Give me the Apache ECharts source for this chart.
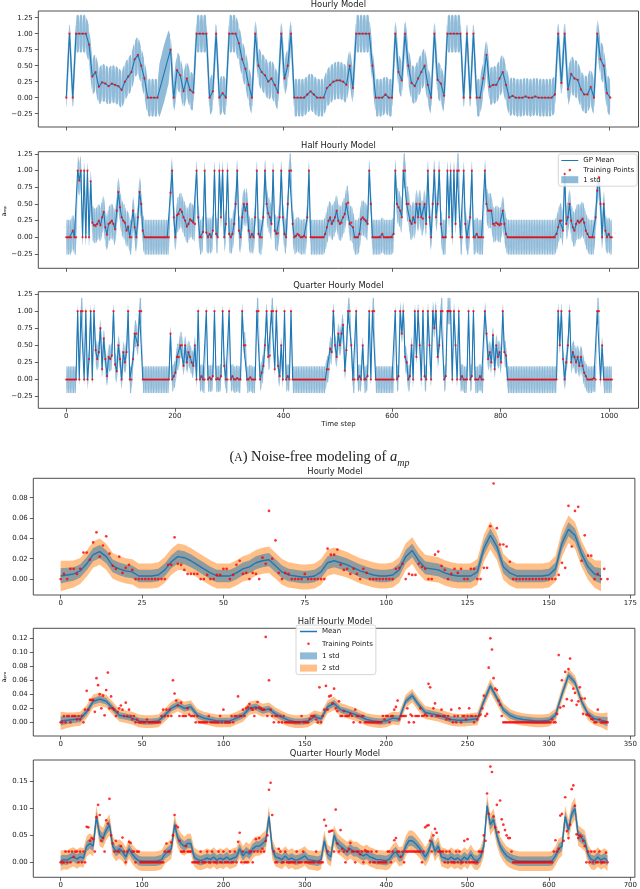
<!DOCTYPE html>
<html><head><meta charset="utf-8">
<script src="https://cdn.jsdelivr.net/npm/echarts@6/dist/echarts.min.js"></script>
<style>html,body{margin:0;padding:0;background:#fff}#c{width:640px;height:889px}</style>
</head><body><div id="c"></div>
<script>
// ================= DATA =================
// (A) noise-free models, x axis = time step
const topTicks = [0, 200, 400, 600, 800, 1000];
const ampTicks = [-0.25, 0, 0.25, 0.5, 0.75, 1, 1.25];
const hourlyStepA = 6, halfStepA = 3, quarterStepA = 3;
const hourlyA = [0,1,0,1,1,1,1,.83,.33,.4, .17,.24,.22,.18,.22,.2,.18,.12,.25,.33,
 .4,.6,.67,.5,.3,0,0,0,0,null, null,null,.75,0,.43,.35,.1,.3,.12,.08,
 1,1,1,1,0,.1,1,0,.07,0, 1,1,1,.85,.6,.45,.2,0,1,.5,
 .4,.35,.25,.3,.2,.08,1,.3,.5,1, 0,0,0,0,.05,.1,.05,0,0,0,
 .15,.2,.25,.27,.27,.25,.2,.5,.15,1, 1,1,1,1,.5,0,0,0,.05,0,
 0,1,.4,.27,1,.5,.23,.18,.3,.4, .5,.2,0,1,.28,.22,.03,1,1,1,
 1,1,0,1,0,1,0,0,.3,.67, .17,.2,.2,.3,.4,.2,0,.03,0,0,
 0,.02,0,0,.02,0,0,0,0,0, .05,1,.23,1,.13,.37,.3,.28,.13,.05,
 .05,.17,0,1,.6,.5,.07,0];
const halfA = [0,0,0,0,.1,0,0,1,.85,1, 0,1,0,1,0,.84,.22,.18,.17,.2,
 .25,.18,.3,.38,.15,.04,.2,.22,.25,.2, .12,.4,.68,.45,.3,.25,.22,.1,.16,0,
 0,.4,.15,0,.3,.68,.5,.1,0,0, 0,0,0,0,0,0,0,0,0,0,
 0,0,0,0,.67,1,.3,0,.33,.35, .42,.38,.3,.25,.16,.2,.27,.25,.22,.2,
 1,.3,0,0,.08,1,.07,0,.05,0, .1,1,.05,0,1,.3,1,0,.2,1,
 .05,0,.05,.2,.5,1,.1,0,.3,.5, .4,.5,.1,0,.05,0,.3,1,.05,0,
 0,.3,1,.5,.36,.3,.2,1,.1,.05, .06,.3,1,.3,.05,0,.5,1,1,.2,
 0,.02,.05,.03,0,0,.02,0,.3,1, 0,0,0,0,0,0,0,0,0,.05,
 .15,.25,.3,.2,.25,.3,.4,.25,.2,.22, .3,.35,.5,.52,.2,.22,.15,0,0,0,
 .05,.27,.3,.27,.25,.2,1,.5,0,0, 0,0,0,0,.05,0,0,0,0,0,
 0,.05,1,.5,.45,.4,.3,1,1,.5, .5,.25,.2,.3,.22,.5,.3,.5,.3,.28,
 .5,.2,1,.3,0,.5,1,.3,.5,1, .2,0,0,0,1,.3,1,0,1,.2,
 1,1,0,0,1,.2,0,0,.3,1, 0,0,.05,0,0,0,0,1,.5,.4,
 .4,.4,.2,.18,.22,.2,.18,.2,.4,.2, .05,0,0,0,0,0,0,0,0,0,
 0,0,0,0,0,0,0,0,0,0, 0,0,0,0,0,0,0,0,0,0,
 0,.05,.15,.25,.25,.1,.95,.2,.3,.5, .25,.15,.1,.2,.25,.22,.25,.28,.22,.1,
 .05,0,0,0,0,.3,.7,.9,.5,0, .5,.1,0,.05,0,0];
const quarterA = [0,0,0,0,0,0,0,1,0,1, 1,0,1,0,.3,1,0,1,.43,.3,
 .4,.75,.15,.6,.3,.05,.33,.3,.35,1, .22,.12,.5,.3,0,.4,.25,.4,1,0,
 0,.3,.67,.67,.5,1,1,0,0,0, 0,0,0,0,0,0,0,0,0,0,
 0,0,0,0,.67,0,.05,.1,.33,.33, .5,.5,.2,.5,.25,.4,.33,.25,.2,.5,
 0,1,0,.05,0,0,1,0,.03,0, .05,1,0,.02,0,.05,1,.2,0,0,
 1,0,.05,0,0,.02,0,0,1,.5, .5,0,0,.03,0,0,0,1,1,0,
 .1,.2,.5,1,.33,.35,1,1,.15,1, .2,.05,.5,0,1,0,.05,0,1,0,
 0,0,0,0,0,0,0,0,0,0, 0,0,0,0,0,0,0,0,0,0,
 .15,.15,.45,.4,1,.5,.33,.67,.5,.67, .8,.13,.43,1,1,.5,0,0,1,0,
 .05,0,.5,0,0,.05,1,0,1,1, 0,0,0,0,0,0,0,0,0,0,
 0,0,1,0,.05,1,.67,1,.33,.25, 0,.05,.5,0,1,.33,1,.5,0,1,
 .05,0,1,.5,0,1,.75,1,.33,.5, 1,1,0,.05,1,1,1,0,1,.5,
 0,1,0,.05,0,0,0,1,0,.05, 1,0,0,0,.05,0,0,1,.67,.3,
 .4,.25,.65,.15,.5,.33,.4,.25,1,.4, .35,0,0,0,0,0,0,0,0,0,
 0,0,0,0,0,0,0,0,0,0, 0,0,0,0,0,0,0,0,0,0,
 0,0,1,.5,1,.3,0,.25,.5,1, .25,.4,.33,.25,.33,.2,.33,.2,.1,.05,
 0,0,0,0,.02,0,1,1,0,.5, 0,0,0,0,0,0];
// posterior std midway between neighbouring training points
const hourlyStdA = 0.3, halfStdA = 0.27, quarterStdA = 0.2;

// (B) noisy models of a_pm
const b1Ticks = [0,25,50,75,100,125,150,175];
const b2Ticks = [0,50,100,150,200,250,300,350];
const b3Ticks = [0,100,200,300,400,500,600,700];
const b1YTicks = [0,.02,.04,.06,.08];
const b2YTicks = [0,.02,.04,.06,.08,.10,.12];
const b3YTicks = [0,.05,.10,.15];
const b1Step = 1, b1MeanStep = 2;
const b1Train = [0,.005,0,.01,.01,.005,.01,.026,.026,.019, .036,.046,.022,.033,.042,.025,.013,.01,.022,.006,
 .011,.014,.009,0,0,0,0,0,0,0, 0,0,0,.014,.014,.041,.015,.014,.009,.005,
 .005,.005,.005,0,0,.004,0,0,.004,.004, .01,.01,0,.004,.014,.018,.005,.006,0,.006,
 .005,0,.021,.015,.067,.02,.038,.006,0,.006, .005,0,0,0,0,.005,0,0,0,0,
 0,0,.03,.024,.024,.029,.014,.009,.01,.005, .01,.005,0,.01,.006,0,0,0,0,0,
 0,0,0,.01,.011,.015,0,.005,.004,.004, .015,.012,.01,0,0,.024,.027,.013,.009,0,
 .005,.01,.006,.01,0,0,.01,.01,0,0, .011,.011,.052,.094,.05,.034,.034,.032,.017,0,
 0,0,0,0,0,0,0,0,0,0, 0,0,0,.004,.016,.011,.072,.032,.067,.071,
 .018,.043,.023,.023,0,.005,0,.01,0];
const b1Mean = [.003,.004,.005,.008,.015,.024,.027,.022,.013,.01, .008,.007,.003,.003,.003,.004,.009,.017,.022,.021,
 .018,.014,.01,.006,.003,.003,.003,.006,.01,.012, .016,.018,.019,.013,.007,.004,.003,.002,.002,.003,
 .007,.016,.018,.016,.014,.011,.008,.006,.004,.003, .003,.004,.009,.022,.028,.018,.011,.01,.009,.006,
 .004,.003,.003,.003,.007,.03,.043,.032,.012,.006, .003,.003,.003,.003,.003,.004,.01,.035,.049,.043,
 .025,.012,.005,.003];
const b1Std = [.0075,.007,.0066,.0064,.0064,.0065,.0065,.0064,.0063,.0062, .0062,.0062,.0062,.0062,.0062,.0062,.0063,.0064,.0065,.0064,
 .0063,.0062,.0062,.0062,.0062,.0062,.0062,.0062,.0062,.0063, .0063,.0064,.0065,.0064,.0063,.0062,.0062,.0062,.0062,.0062,
 .0063,.0064,.0065,.0064,.0063,.0062,.0062,.0062,.0062,.0062, .0062,.0062,.0063,.0065,.0066,.0065,.0064,.0063,.0062,.0062,
 .0062,.0062,.0062,.0062,.0063,.0066,.0068,.0066,.0064,.0062, .0062,.0062,.0062,.0062,.0062,.0062,.0063,.0066,.0068,.0066,
 .0064,.0064,.0068,.0075];

const b2Step = 1, b2MeanStep = 4;
const b2Train = [0,0,.009,0,.009,.009,0,.009, .009,.009,.004,.009,.004,.009,0,.018,
 .045,.018,.032,.032,.032,.015,.063,.053, .04,.02,.038,.01,.046,.071,.02,.037,
 .02,.018,.009,.015,.02,.024,.018,.009, .028,.009,.018,.009,.004,.009,0,.004,
 0,0,0,0,0,.004,0,0, 0,0,0,0,0,0,.009,.018,
 .009,.018,.009,.018,.009,.06,.041,.031, .024,.009,.028,.009,.009,.009,.02,.011,
 .009,.009,.009,0,.009,0,0,0, 0,0,0,.009,0,0,0,0,
 0,0,.009,0,.018,0,0,0, 0,.009,0,.009,.009,.037,.009,.009,
 .018,.009,.02,.022,.026,.02,.018,.009, .02,.029,.021,.02,.018,.018,.122,.009,
 .06,.018,.009,0,.009,.009,0,.009, 0,.009,0,0,0,0,0,0,
 0,0,0,0,.009,0,0,0, 0,.005,.009,.009,.009,.004,0,.05,
 0,.009,.018,.052,.018,.037,.038,.027, .048,.02,.016,.03,.009,.009,.016,.009,
 .009,.009,.012,.009,0,.018,.009,.009, 0,.009,.009,0,0,0,0,0,
 0,0,0,0,0,0,.009,.004, .009,.009,0,.009,.009,.018,.022,.031,
 .004,.009,.009,.009,.009,.02,0,.011, .009,0,.009,.009,.009,.02,.009,.009,
 .011,.009,.055,.05,.009,.02,.027,.009, .009,.009,.018,.009,.009,.004,.009,.004,
 .018,0,.009,0,.009,.02,0,.009, .009,.004,.009,.02,.009,.009,0,.009,
 .004,.009,.011,.02,.038,.009,.012,.078, .12,.104,.063,.048,.046,.031,.025,.009,
 0,0,0,0,0,0,0,0, 0,0,0,0,0,0,0,0,
 0,0,0,0,0,0,0,0, 0,0,0,0,0,0,.004,0,
 0,.012,.096,.021,.06,.023,.072,.033, .076,.091,.031,.048,.042,.025,.03,.05,
 .034,.012,.034,.011,.011,.009,.005,.004, 0,0,.018,.004,0,0,0,0, 0];
const b2Mean = [.002,.003,.004,.005,.015,.03,.033,.03,.02,.01, .008,.006,.002,.001,.001,.002,.01,.02,.025,.02,
 .022,.01,.006,.004,.002,.002,.002,.006,.01,.02, .022,.017,.019,.012,.007,.003,.001,.001,.002,.008,
 .005,.022,.027,.018,.015,.012,.008,.004,.002,.001, .002,.006,.005,.03,.038,.025,.014,.012,.01,.007,
 .004,.003,.003,.004,.005,.03,.052,.035,.018,.01, .006,.004,.003,.002,.002,.003,.01,.04,.067,.057,
 .03,.012,.005,.003,.001];
const b2Std = [.0065,.0055,.005,.005,.0048,.0048,.0048,.0047,.0046,.0045, .0045,.0045,.0045,.0045,.0045,.0045,.0046,.0047,.0047,.0047,
 .0047,.0046,.0045,.0045,.0045,.0045,.0045,.0045,.0046,.0047, .0047,.0047,.0047,.0046,.0045,.0045,.0045,.0045,.0045,.0046,
 .0046,.0047,.0047,.0047,.0046,.0046,.0045,.0045,.0045,.0045, .0045,.0046,.0046,.0047,.0048,.0047,.0046,.0046,.0045,.0045,
 .0045,.0045,.0045,.0045,.0046,.0048,.005,.0048,.0046,.0045, .0045,.0045,.0045,.0045,.0045,.0046,.0047,.005,.0052,.005,
 .0048,.0046,.0046,.005,.0065];

const b3Step = 2, b3MeanStep = 4;
const b3Train = [0,0,0,.02,0,.02,0,.02,.01,.02, .02,0,.02,0,.02,0,.066,.065,.04,.045,
 .043,.02,.084,.107,.088,.04,.045,.02,.078,.072, .118,.05,.035,.02,.04,.02,.02,.03,.046,.02,
 0,.02,.038,.036,.02,.02,0,.02,.02,0, 0,0,0,0,0,0,0,0,0,0,
 0,0,0,0,.02,.035,.02,.02,.037,.05, .088,.068,.065,.04,.02,.02,.02,.03,.02,.02,
 .02,0,0,0,0,0,.02,0,0,0, .02,0,0,.02,0,0,0,.02,0,0,
 .02,0,0,0,.02,0,0,.02,0,.038, .055,0,.02,0,0,0,.02,.02,0,.02,
 .043,.02,.045,.02,.025,.02,.04,.05,.135,.148, .088,.02,0,0,.025,.02,0,0,.02,0,
 0,0,0,0,0,.02,0,0,0,.02, 0,0,0,0,0,0,0,.02,0,0,
 0,0,.079,.068,.02,.057,.058,.059,.02,.098, .035,.02,.06,.025,.02,0,.02,.025,.036,.02,
 .02,0,.02,.02,.015,.02,0,.022,.02,.02, 0,.02,0,0,.02,0,0,0,0,0,
 0,.02,.02,0,.02,.041,.045,.02,.02,.01, .02,0,.02,.02,.02,.02,.02,.02,.02,.02,
 .02,.02,0,.02,.065,.068,.069,.04,.02,.05, .062,.055,.02,.02,.02,.02,0,.02,0,.02,
 0,0,0,.02,0,.02,0,0,.04,0, .043,0,0,0,0,0,0,.02,.02,.02,
 .05,.04,.128,.09,.178,.168,.085,.065,.107,.056, .115,.08,.07,.06,.05,.045,.045,.02,0,0,
 0,0,0,0,0,0,0,0,0,0, 0,0,0,0,0,0,0,0,0,0,
 0,0,0,.02,.041,.02,.025,.087,.09,.04, .121,.058,.045,.07,.136,.143,.105,.052,.045,.05,
 .048,.04,.03,0,.02,0,.02,0,.02,0, 0,.02,0,0,0,.018,0];
const b3Mean = [.003,.005,.004,.008,.01,.006,.01,.008,.03,.035, .03,.085,.05,.045,.06,.07,.03,.02,.025,.02,
 .01,.025,.015,.008,.003,.002,.002,.002,.002,.002, .003,.005,.015,.02,.025,.07,.045,.035,.03,.035,
 .035,.01,.005,.003,.005,.008,.005,.01,.004,.008, .005,.01,.005,.008,.01,.025,.012,.02,.015,.025,
 .03,.03,.035,.04,.085,.025,.01,.008,.005,.012, .005,.008,.004,.005,.008,.012,.005,.004,.003,.002,
 .005,.04,.015,.01,.05,.035,.03,.025,.02,.025, .02,.02,.015,.012,.015,.01,.008,.005,.005,.004,
 .003,.006,.015,.02,.01,.012,.03,.04,.04,.035, .028,.02,.01,.02,.04,.02,.03,.01,.008,.005,
 .01,.005,.008,.003,.01,.005,.015,.005,.003,.01, .03,.105,.07,.08,.05,.03,.02,.012,.008,.005,
 .003,.002,.002,.002,.002,.002,.002,.002,.002,.002, .002,.003,.012,.025,.03,.085,.06,.09,.1,.05,
 .045,.04,.015,.005,.003,.01,.004,.008,.003];
const b3Std = [.0095,.009,.009,.009,.009,.009,.009,.009,.0095,.0095, .0095,.01,.01,.0095,.0095,.01,.0095,.009,.009,.009,
 .009,.009,.009,.009,.009,.009,.009,.009,.009,.009, .009,.009,.009,.009,.0095,.01,.0095,.0095,.009,.009,
 .009,.009,.009,.009,.009,.009,.009,.009,.009,.009, .009,.009,.009,.009,.009,.009,.009,.009,.009,.009,
 .009,.009,.0095,.0095,.01,.0095,.009,.009,.009,.009, .009,.009,.009,.009,.009,.009,.009,.009,.009,.009,
 .009,.0095,.009,.009,.0095,.0095,.009,.009,.009,.009, .009,.009,.009,.009,.009,.009,.009,.009,.009,.009,
 .009,.009,.009,.009,.009,.009,.0095,.0095,.0095,.0095, .009,.009,.009,.009,.0095,.009,.009,.009,.009,.009,
 .009,.009,.009,.009,.009,.009,.009,.009,.009,.009, .0095,.0105,.01,.01,.0095,.009,.009,.009,.009,.009,
 .009,.009,.009,.009,.009,.009,.009,.009,.009,.009, .009,.009,.009,.0095,.009,.01,.01,.01,.0105,.0095,
 .0095,.0095,.009,.009,.009,.009,.009,.009,.0095];

// ================= DRAWING =================
const F = 'DejaVu Sans';
const TXT = '#1a1a1a';
const BLUE = '#1f77b4';
const RED = '#ff0000';
const BAND1 = 'rgba(31,119,180,0.5)';
const BAND2 = 'rgba(255,127,14,0.5)';
const fmt2 = v => (v < 0 ? '\u2212' : '') + Math.abs(v).toFixed(2);

const grids = [
  {left: 38.3, top: 11, width: 600.2, height: 116},
  {left: 38.3, top: 151.7, width: 600.2, height: 116.6},
  {left: 38.3, top: 291.7, width: 600.2, height: 116.6},
  {left: 33.3, top: 478.3, width: 603.4, height: 116.7},
  {left: 33.3, top: 628.3, width: 603.4, height: 107.7},
  {left: 33.3, top: 760, width: 603.4, height: 117.3}
].map(g => Object.assign({show: true, borderColor: '#3a3a3a', borderWidth: 0.9, backgroundColor: 'transparent'}, g));

function xAx(gi, min, max, ticks, showLabels) {
  return {type: 'value', gridIndex: gi, min, max,
    axisLine: {show: false, onZero: false}, splitLine: {show: false},
    axisTick: {show: true, length: 3.5, customValues: ticks, lineStyle: {color: '#3a3a3a', width: 0.8}},
    axisLabel: {show: showLabels, customValues: ticks, margin: 4.6, fontSize: 7, fontFamily: F, color: TXT,
      formatter: v => String(Math.round(v))}};
}
function yAx(gi, min, max, ticks) {
  return {type: 'value', gridIndex: gi, min, max,
    axisLine: {show: false, onZero: false}, splitLine: {show: false},
    axisTick: {show: true, length: 3.5, customValues: ticks, lineStyle: {color: '#3a3a3a', width: 0.8}},
    axisLabel: {show: true, customValues: ticks, margin: 5.5, fontSize: 7, fontFamily: F, color: TXT, formatter: fmt2}};
}
const xAxes = [
  xAx(0, -51.5, 1054, topTicks, false),
  xAx(1, -51.5, 1054, topTicks, false),
  xAx(2, -51.5, 1054, topTicks, true),
  xAx(3, -8.4, 176.4, b1Ticks, true),
  xAx(4, -16.8, 352.8, b2Ticks, true),
  xAx(5, -33.6, 705.6, b3Ticks, true)
];
const yAxes = [
  yAx(0, -0.458, 1.355, ampTicks),
  yAx(1, -0.464, 1.284, ampTicks),
  yAx(2, -0.42, 1.284, ampTicks),
  yAx(3, -0.0157, 0.0991, b1YTicks),
  yAx(4, -0.0196, 0.1343, b2YTicks),
  yAx(5, -0.0279, 0.1903, b3YTicks)
];

function pts(step, arr) {
  const o = [];
  arr.forEach((v, i) => { if (v !== null && v !== undefined) o.push([i * step, v]); });
  return o;
}
// noise-free GP band: zero width at each training point, widest (= std) between neighbours
function lensBand(gi, step, arr, sd, color, z) {
  const p = pts(step, arr);
  const gaps = [];
  for (let k = 0; k + 1 < p.length; k++) gaps.push([p[k][0], p[k][1], p[k + 1][0], p[k + 1][1]]);
  const fr = [0, 0.04, 0.15, 0.5, 0.85, 0.96, 1], wd = [0, 0.6, 0.93, 1, 0.93, 0.6, 0];
  return {type: 'custom', name: '1 std', xAxisIndex: gi, yAxisIndex: gi, z, silent: true,
    itemStyle: {color}, data: gaps, encode: {x: [0, 2], y: [1, 3]},
    renderItem(params, api) {
      const x0 = api.value(0), y0 = api.value(1), x1 = api.value(2), y1 = api.value(3);
      const S = sd * ((x1 - x0) > 1.5 * step ? 1.5 : 1);
      const up = [], dn = [];
      for (let k = 0; k < fr.length; k++) {
        const x = x0 + fr[k] * (x1 - x0), y = y0 + fr[k] * (y1 - y0);
        up.push(api.coord([x, y + wd[k] * S]));
        dn.push(api.coord([x, y - wd[k] * S]));
      }
      return {type: 'polygon', shape: {points: up.concat(dn.reverse())}, style: {fill: color}};
    }};
}
function band(gi, xs, lo, hi, color, name, z) {
  return {type: 'custom', name, xAxisIndex: gi, yAxisIndex: gi, z, silent: true,
    itemStyle: {color}, data: xs.map((x, k) => [x, lo[k], hi[k]]), encode: {x: 0, y: [1, 2]},
    renderItem(params, api) {
      if (params.dataIndex !== 0) return null;
      const P = [];
      for (let k = 0; k < xs.length; k++) P.push(api.coord([xs[k], hi[k]]));
      for (let k = xs.length - 1; k >= 0; k--) P.push(api.coord([xs[k], lo[k]]));
      return {type: 'polygon', shape: {points: P}, style: {fill: color}};
    }};
}
function line(gi, data, name, width) {
  return {type: 'line', name, xAxisIndex: gi, yAxisIndex: gi, data, symbol: 'none', z: 3,
    lineStyle: {color: BLUE, width}, itemStyle: {color: BLUE}};
}
function dots(gi, data, size) {
  return {type: 'scatter', name: 'Training Points', xAxisIndex: gi, yAxisIndex: gi, data,
    symbolSize: size, itemStyle: {color: RED}, z: 4};
}

const series = [];
const topSets = [
  [hourlyA, hourlyStepA, hourlyStdA],
  [halfA, halfStepA, halfStdA],
  [quarterA, quarterStepA, quarterStdA]
];
topSets.forEach(([arr, step, sd], gi) => {
  series.push(lensBand(gi, step, arr, sd, BAND1, 1));
  series.push(line(gi, pts(step, arr), 'GP Mean', 1.1));
  series.push(dots(gi, pts(step, arr), 2.3));
});
const botSets = [
  [b1Train, b1Step, b1Mean, b1MeanStep, b1Std],
  [b2Train, b2Step, b2Mean, b2MeanStep, b2Std],
  [b3Train, b3Step, b3Mean, b3MeanStep, b3Std]
];
botSets.forEach(([tr, step, mean, mstep, sd], j) => {
  const gi = 3 + j;
  const xs = mean.map((m, k) => k * mstep);
  series.push(band(gi, xs, mean.map((m, k) => m - 2 * sd[k]), mean.map((m, k) => m + 2 * sd[k]), BAND2, '2 std', 1));
  series.push(band(gi, xs, mean.map((m, k) => m - sd[k]), mean.map((m, k) => m + sd[k]), BAND1, '1 std', 2));
  series.push(line(gi, mean.map((m, k) => [k * mstep, m]), 'Mean', 1.4));
  series.push(dots(gi, pts(step, tr), 2.7));
});

const corners = 'M0,0h0.01v0.01h-0.01z M17,7h-0.01v-0.01h0.01z ';
const dotIcon = 'path://' + corners + 'M7.2,3.5a1.3,1.3 0 1,0 2.6,0a1.3,1.3 0 1,0 -2.6,0z';
const lineIcon = 'path://' + corners + 'M0,2.9h17v1.2h-17z';
const lineIconThick = 'path://' + corners + 'M0,2.7h17v1.6h-17z';
const legendBase = {orient: 'vertical', itemWidth: 17, itemHeight: 7, selectedMode: false,
  backgroundColor: 'rgba(255,255,255,0.85)', borderColor: '#cccccc', borderWidth: 0.8, borderRadius: 2.5,
  textStyle: {fontSize: 7, fontFamily: F, color: TXT}};
const legends = [
  Object.assign({}, legendBase, {left: 558.3, top: 154, itemGap: 2.6, padding: [3, 3, 3, 3],
    data: [{name: 'GP Mean', icon: lineIcon, itemStyle: {color: BLUE}},
      {name: 'Training Points', icon: dotIcon, itemStyle: {color: RED}},
      {name: '1 std', icon: 'rect', itemStyle: {color: BAND1}}]}),
  Object.assign({}, legendBase, {left: 296, top: 625, itemGap: 5.2, padding: [3, 3, 3, 4],
    data: [{name: 'Mean', icon: lineIconThick, itemStyle: {color: BLUE}},
      {name: 'Training Points', icon: dotIcon, itemStyle: {color: RED}},
      {name: '1 std', icon: 'rect', itemStyle: {color: BAND1}},
      {name: '2 std', icon: 'rect', itemStyle: {color: BAND2}}]})
];

function ttl(x, y, text) {
  return {type: 'text', x, y, style: {text, fontSize: 8.4, fontFamily: F, fill: TXT, align: 'center', verticalAlign: 'middle'}};
}
const graphics = [
  ttl(338.4, 5.2, 'Hourly Model'),
  ttl(338.4, 145.7, 'Half Hourly Model'),
  ttl(338.4, 285.7, 'Quarter Hourly Model'),
  ttl(335, 472.3, 'Hourly Model'),
  ttl(335, 622.3, 'Half Hourly Model'),
  ttl(335, 754, 'Quarter Hourly Model'),
  {type: 'text', x: 338.4, y: 424.5, style: {text: 'Time step', fontSize: 7, fontFamily: F, fill: TXT, align: 'center', verticalAlign: 'middle'}},
  {type: 'text', x: 4.5, y: 211, rotation: Math.PI / 2, style: {text: 'a\u2098\u209A', fontSize: 6.5, fontFamily: F, fill: TXT, align: 'center', verticalAlign: 'middle'}},
  {type: 'text', x: 4.5, y: 677, rotation: Math.PI / 2, style: {text: 'a\u209A\u2098', fontSize: 6.5, fontFamily: F, fill: TXT, align: 'center', verticalAlign: 'middle'}},
  {type: 'text', x: 319.5, y: 457, style: {
    text: '{p|(}{sc|A}{p|) Noise-free modeling of }{i|a}{s|mp}',
    align: 'center', verticalAlign: 'middle', fill: TXT,
    rich: {
      p: {fontSize: 14.5, fontFamily: 'Liberation Serif', lineHeight: 22, verticalAlign: 'middle', fill: TXT},
      sc: {fontSize: 11.5, fontFamily: 'Liberation Serif', lineHeight: 22, verticalAlign: 'middle', fill: TXT, padding: [2, 0, 0, 0]},
      i: {fontSize: 14.5, fontFamily: 'Liberation Serif', fontStyle: 'italic', lineHeight: 22, verticalAlign: 'middle', fill: TXT},
      s: {fontSize: 10, fontFamily: 'Liberation Serif', fontStyle: 'italic', lineHeight: 22, verticalAlign: 'bottom', fill: TXT}
    }}}
];

const chart = echarts.init(document.getElementById('c'), null, {renderer: 'canvas'});
chart.setOption({
  animation: false,
  backgroundColor: '#ffffff',
  grid: grids, xAxis: xAxes, yAxis: yAxes,
  legend: legends, series, graphic: graphics
});
</script>
</body></html>
